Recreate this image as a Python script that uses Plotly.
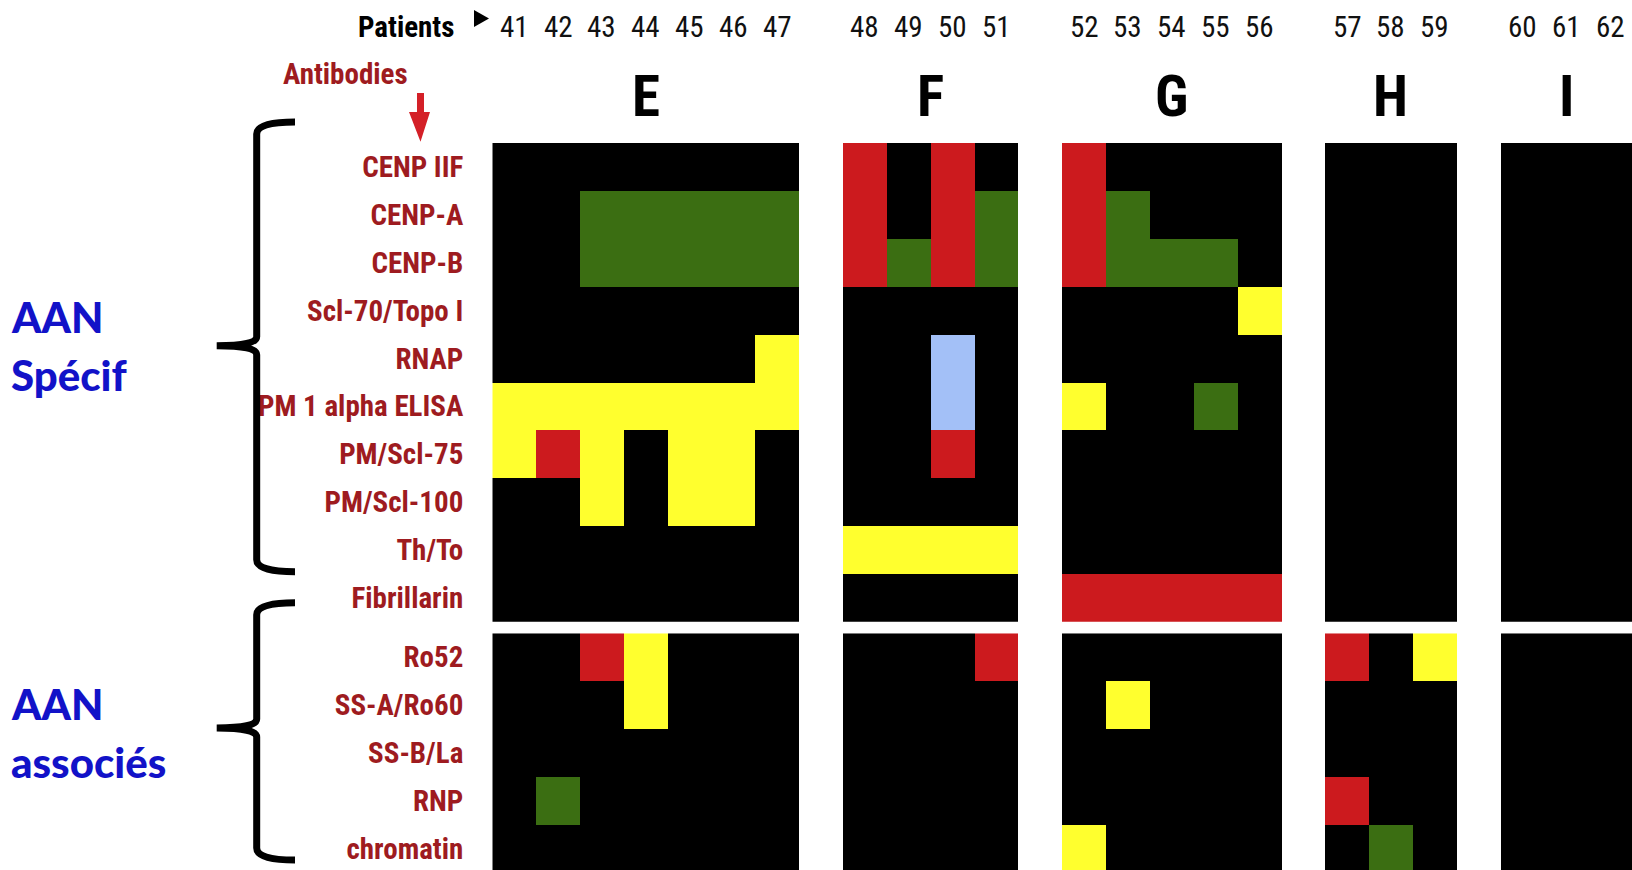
import plotly.graph_objects as go

W, H = 1632, 870

# Patients grouped by profile (group letter -> patient numbers)
group_names = ["E", "F", "G", "H", "I"]
group_patients = [
    [41, 42, 43, 44, 45, 46, 47],
    [48, 49, 50, 51],
    [52, 53, 54, 55, 56],
    [57, 58, 59],
    [60, 61, 62],
]

specific_antibodies = [
    "CENP IIF", "CENP-A", "CENP-B", "Scl-70/Topo I", "RNAP",
    "PM 1 alpha ELISA", "PM/Scl-75", "PM/Scl-100", "Th/To", "Fibrillarin",
]
associated_antibodies = ["Ro52", "SS-A/Ro60", "SS-B/La", "RNP", "chromatin"]

# Result codes: 0 = negative (black), 1 = yellow, 2 = green, 3 = red, 4 = light blue
result_colors = ["#000000", "#FFFF2E", "#3B6E12", "#CC1A1E", "#A3C0F7"]

# One row per antibody, one value per patient 41..62
specific_results = [
    [0, 0, 0, 0, 0, 0, 0,  3, 0, 3, 0,  3, 0, 0, 0, 0,  0, 0, 0,  0, 0, 0],
    [0, 0, 2, 2, 2, 2, 2,  3, 0, 3, 2,  3, 2, 0, 0, 0,  0, 0, 0,  0, 0, 0],
    [0, 0, 2, 2, 2, 2, 2,  3, 2, 3, 2,  3, 2, 2, 2, 0,  0, 0, 0,  0, 0, 0],
    [0, 0, 0, 0, 0, 0, 0,  0, 0, 0, 0,  0, 0, 0, 0, 1,  0, 0, 0,  0, 0, 0],
    [0, 0, 0, 0, 0, 0, 1,  0, 0, 4, 0,  0, 0, 0, 0, 0,  0, 0, 0,  0, 0, 0],
    [1, 1, 1, 1, 1, 1, 1,  0, 0, 4, 0,  1, 0, 0, 2, 0,  0, 0, 0,  0, 0, 0],
    [1, 3, 1, 0, 1, 1, 0,  0, 0, 3, 0,  0, 0, 0, 0, 0,  0, 0, 0,  0, 0, 0],
    [0, 0, 1, 0, 1, 1, 0,  0, 0, 0, 0,  0, 0, 0, 0, 0,  0, 0, 0,  0, 0, 0],
    [0, 0, 0, 0, 0, 0, 0,  1, 1, 1, 1,  0, 0, 0, 0, 0,  0, 0, 0,  0, 0, 0],
    [0, 0, 0, 0, 0, 0, 0,  0, 0, 0, 0,  3, 3, 3, 3, 3,  0, 0, 0,  0, 0, 0],
]
associated_results = [
    [0, 0, 3, 1, 0, 0, 0,  0, 0, 0, 3,  0, 0, 0, 0, 0,  3, 0, 1,  0, 0, 0],
    [0, 0, 0, 1, 0, 0, 0,  0, 0, 0, 0,  0, 1, 0, 0, 0,  0, 0, 0,  0, 0, 0],
    [0, 0, 0, 0, 0, 0, 0,  0, 0, 0, 0,  0, 0, 0, 0, 0,  0, 0, 0,  0, 0, 0],
    [0, 2, 0, 0, 0, 0, 0,  0, 0, 0, 0,  0, 0, 0, 0, 0,  3, 0, 0,  0, 0, 0],
    [0, 0, 0, 0, 0, 0, 0,  0, 0, 0, 0,  1, 0, 0, 0, 0,  0, 2, 0,  0, 0, 0],
]

NARROW = "Liberation Sans Narrow, Arial Narrow, Roboto Condensed, Roboto, sans-serif"
LABEL_RED = "#9E1B20"
BLUE = "#1212C8"

# Column index for each patient: one blank column between groups
patients, columns = [], []
for g, pts in enumerate(group_patients):
    for p in pts:
        patients.append(p)
        columns.append(len(patients) - 1 + g)
n_cols = columns[-1] + 1


def to_grid(rows):
    grid = []
    for row in rows:
        line = [None] * n_cols
        for c, v in zip(columns, row):
            line[c] = v
        grid.append(line)
    return grid


n = len(result_colors)
colorscale = []
for i, c in enumerate(result_colors):
    colorscale += [[i / n, c], [(i + 1) / n, c]]

fig = go.Figure()
common = dict(x=list(range(n_cols)), colorscale=colorscale, zmin=-0.5,
              zmax=n - 0.5, showscale=False, hoverinfo="skip", xgap=0, ygap=0)
fig.add_trace(go.Heatmap(z=to_grid(specific_results),
                         y=list(range(len(specific_antibodies))),
                         xaxis="x", yaxis="y", **common))
fig.add_trace(go.Heatmap(z=to_grid(associated_results),
                         y=list(range(len(associated_antibodies))),
                         xaxis="x", yaxis="y2", **common))

# Pixel layout of the two blocks
left_px = 492.3
top1, bot1 = 143.0, 621.7
top2 = 633.3
row_px = (bot1 - top1) / len(specific_antibodies)
visible_rows2 = (H - top2) / row_px

tickfont = dict(family=NARROW, size=29, color=LABEL_RED, weight="bold")
fig.update_layout(
    width=W, height=H, margin=dict(l=0, r=0, t=0, b=0),
    paper_bgcolor="white", plot_bgcolor="white", showlegend=False,
    xaxis=dict(domain=[left_px / W, 1], range=[-0.5, n_cols - 0.5],
               visible=False, fixedrange=True),
    yaxis=dict(domain=[1 - bot1 / H, 1 - top1 / H],
               range=[len(specific_antibodies) - 0.5, -0.5],
               tickvals=list(range(len(specific_antibodies))),
               ticktext=specific_antibodies, ticks="", showgrid=False,
               zeroline=False, showline=False, tickfont=tickfont,
               ticklabelstandoff=28, anchor="x"),
    yaxis2=dict(domain=[0, 1 - top2 / H],
                range=[visible_rows2 - 0.5, -0.5],
                tickvals=list(range(len(associated_antibodies))),
                ticktext=associated_antibodies, ticks="", showgrid=False,
                zeroline=False, showline=False, tickfont=tickfont,
                ticklabelstandoff=28, anchor="x"),
)


def px(x, y):
    return x / W, 1 - y / H


annotations = []
# Patient numbers above the columns
for p, c in zip(patients, columns):
    annotations.append(dict(x=c, xref="x", y=px(0, 27)[1], yref="paper",
                            text=str(p), showarrow=False, xanchor="center",
                            yanchor="middle",
                            font=dict(family=NARROW, size=29, color="#111111")))
# Group letters
start = 0
for g, pts in enumerate(group_patients):
    cols = columns[start:start + len(pts)]
    start += len(pts)
    annotations.append(dict(x=(cols[0] + cols[-1]) / 2, xref="x",
                            y=px(0, 96)[1], yref="paper", text=group_names[g],
                            showarrow=False, xanchor="center", yanchor="middle",
                            font=dict(family=NARROW, size=57, color="#000000",
                                      weight="bold")))

annotations.append(dict(x=px(406, 0)[0], y=px(0, 27)[1], xref="paper",
                        yref="paper", text="Patients", showarrow=False,
                        xanchor="center", yanchor="middle",
                        font=dict(family=NARROW, size=29, color="#000000",
                                  weight="bold")))
annotations.append(dict(x=px(345, 0)[0], y=px(0, 74)[1], xref="paper",
                        yref="paper", text="Antibodies", showarrow=False,
                        xanchor="center", yanchor="middle",
                        font=dict(family=NARROW, size=29, color=LABEL_RED,
                                  weight="bold")))

blue_font = dict(family="Lato, Open Sans, sans-serif", size=42, color=BLUE,
                 weight=900)
for text, yc in [("AAN", 317), ("Spécif", 375), ("AAN", 704), ("associés", 762)]:
    annotations.append(dict(x=px(9, 0)[0], y=px(0, yc)[1], xref="paper",
                            yref="paper", text=text, showarrow=False,
                            xanchor="left", yanchor="middle", font=blue_font))

fig.update_layout(annotations=annotations)


def path(points, close=False):
    s = ""
    for kind, *coords in points:
        pts = []
        for j in range(0, len(coords), 2):
            xx, yy = px(coords[j], coords[j + 1])
            pts.append(f"{xx:.5f},{yy:.5f}")
        s += kind + " " + " ".join(pts) + " "
    return s + ("Z" if close else "")


def brace(y_top, y_mid, y_bot, x_line=256.7, x_end=295, x_tip=216.7):
    return path([
        ("M", x_end, y_top),
        ("Q", x_line, y_top, x_line, y_top + 12),
        ("L", x_line, y_mid - 9),
        ("Q", x_line, y_mid, x_tip, y_mid),
        ("Q", x_line, y_mid, x_line, y_mid + 9),
        ("L", x_line, y_bot - 12),
        ("Q", x_line, y_bot, x_end, y_bot),
    ])


shapes = [
    dict(type="path", xref="paper", yref="paper",
         path=brace(122, 345.7, 571.7), line=dict(color="black", width=7)),
    dict(type="path", xref="paper", yref="paper",
         path=brace(602.7, 728, 860), line=dict(color="black", width=7)),
    # small triangle after "Patients"
    dict(type="path", xref="paper", yref="paper",
         path=path([("M", 474, 10), ("L", 474, 27), ("L", 489, 18.5)], True),
         fillcolor="black", line=dict(width=0)),
    # red arrow under "Antibodies"
    dict(type="path", xref="paper", yref="paper",
         path=path([("M", 417, 93), ("L", 424, 93), ("L", 424, 112),
                    ("L", 430, 112), ("L", 420.5, 141.7), ("L", 409, 112),
                    ("L", 417, 112)], True),
         fillcolor="#D42027", line=dict(width=0)),
]
fig.update_layout(shapes=shapes)

fig.write_html("out.html")
